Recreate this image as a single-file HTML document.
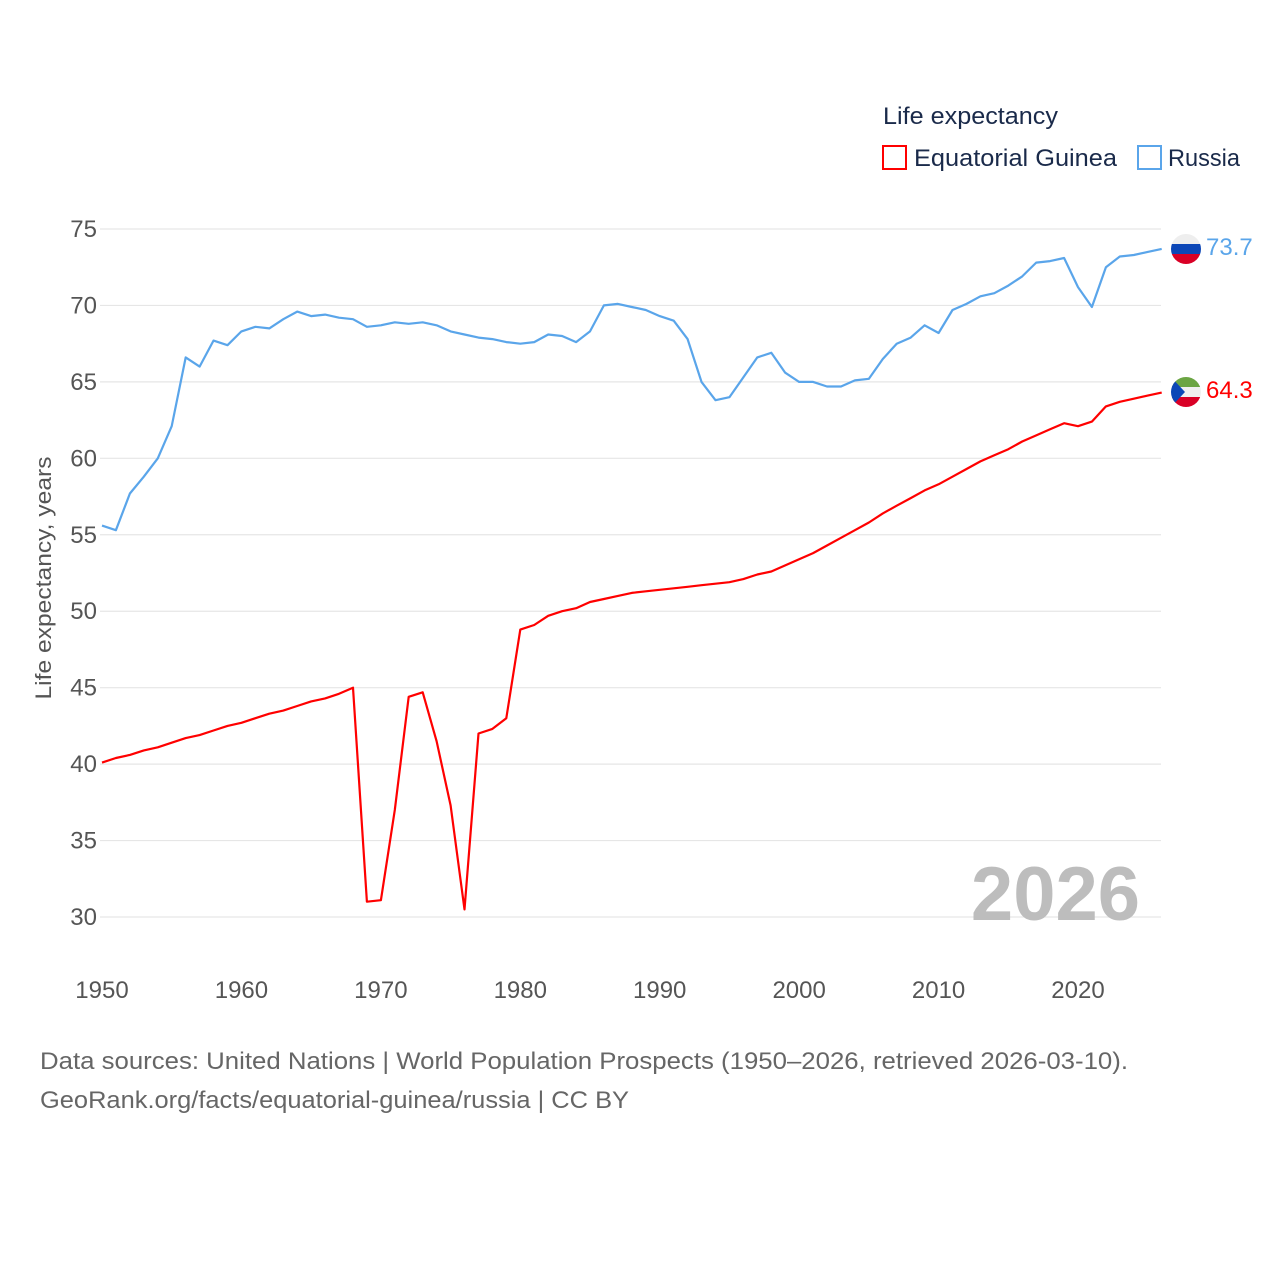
<!DOCTYPE html>
<html><head><meta charset="utf-8">
<style>
html,body{margin:0;padding:0;background:#fff;}
body{width:1280px;height:1280px;overflow:hidden;font-family:"Liberation Sans",sans-serif;}
</style></head>
<body>
<svg id="chart" width="1280" height="1280" xmlns="http://www.w3.org/2000/svg" font-family="Liberation Sans, sans-serif">
<defs>
<clipPath id="cr"><circle cx="1186" cy="249" r="15"/></clipPath>
<clipPath id="ce"><circle cx="1186" cy="392" r="15"/></clipPath>
</defs>
<g id="grid"></g>
<g id="yticks"></g>
<g id="xticks"></g>
<text transform="translate(51,578) rotate(-90)" text-anchor="middle" font-size="22" fill="#555" textLength="243" lengthAdjust="spacingAndGlyphs">Life expectancy, years</text>
<g id="lines"></g>
<text x="1140" y="920" text-anchor="end" font-size="76" font-weight="bold" fill="#bdbdbd">2026</text>
<g>
<text x="883" y="124" font-size="24" fill="#1a2a4a" textLength="175" lengthAdjust="spacingAndGlyphs">Life expectancy</text>
<g>
<rect x="883" y="146" width="23" height="23" fill="none" stroke="#ff0000" stroke-width="2"/>
<text x="914" y="166" font-size="24" fill="#1a2a4a" textLength="203" lengthAdjust="spacingAndGlyphs">Equatorial Guinea</text></g>
<g>
<rect x="1138" y="146" width="23" height="23" fill="none" stroke="#5aa5ea" stroke-width="2"/>
<text x="1168" y="166" font-size="24" fill="#1a2a4a" textLength="72" lengthAdjust="spacingAndGlyphs">Russia</text></g>
</g>
<g clip-path="url(#cr)">
<rect x="1171" y="234" width="30" height="10" fill="#eeeeee"/><rect x="1171" y="244" width="30" height="10" fill="#0c47b7"/><rect x="1171" y="254" width="30" height="10" fill="#d90026"/></g>
<g clip-path="url(#ce)">
<rect x="1171" y="377" width="30" height="10" fill="#6ba543"/><rect x="1171" y="387" width="30" height="10" fill="#f0f0f0"/><rect x="1171" y="397" width="30" height="10" fill="#d90026"/><polygon points="1171,377 1185,392 1171,407" fill="#0c47b7"/></g>
<text x="1206" y="255" font-size="24" fill="#5aa5ea">73.7</text>
<text x="1206" y="398" font-size="24" fill="#ff0000">64.3</text>
<text x="40" y="1069" font-size="24" fill="#666" textLength="1088" lengthAdjust="spacingAndGlyphs">Data sources: United Nations | World Population Prospects (1950–2026, retrieved 2026-03-10).</text>
<text x="40" y="1108" font-size="24" fill="#666" textLength="589" lengthAdjust="spacingAndGlyphs">GeoRank.org/facts/equatorial-guinea/russia | CC BY</text>
</svg>
<script>
const years = [];
for (let y = 1950; y <= 2026; y++) years.push(y);
const russia = [55.6,55.3,57.7,58.8,60.0,62.1,66.6,66.0,67.7,67.4,68.3,68.6,68.5,69.1,69.6,69.3,69.4,69.2,69.1,68.6,68.7,68.9,68.8,68.9,68.7,68.3,68.1,67.9,67.8,67.6,67.5,67.6,68.1,68.0,67.6,68.3,70.0,70.1,69.9,69.7,69.3,69.0,67.8,65.0,63.8,64.0,65.3,66.6,66.9,65.6,65.0,65.0,64.7,64.7,65.1,65.2,66.5,67.5,67.9,68.7,68.2,69.7,70.1,70.6,70.8,71.3,71.9,72.8,72.9,73.1,71.2,69.9,72.5,73.2,73.3,73.5,73.7];
const eqGuinea = [40.1,40.4,40.6,40.9,41.1,41.4,41.7,41.9,42.2,42.5,42.7,43.0,43.3,43.5,43.8,44.1,44.3,44.6,45.0,31.0,31.1,37.0,44.4,44.7,41.5,37.3,30.5,42.0,42.3,43.0,48.8,49.1,49.7,50.0,50.2,50.6,50.8,51.0,51.2,51.3,51.4,51.5,51.6,51.7,51.8,51.9,52.1,52.4,52.6,53.0,53.4,53.8,54.3,54.8,55.3,55.8,56.4,56.9,57.4,57.9,58.3,58.8,59.3,59.8,60.2,60.6,61.1,61.5,61.9,62.3,62.1,62.4,63.4,63.7,63.9,64.1,64.3];
const yTicks = [30,35,40,45,50,55,60,65,70,75];
const xTicks = [1950,1960,1970,1980,1990,2000,2010,2020];

const NS = "http://www.w3.org/2000/svg";
const xs = v => 102 + (v - 1950) * (1078 - 102) / 70;
const ys = v => 229 + (75 - v) * (917 - 229) / 45;

const grid = document.getElementById('grid');
const yt = document.getElementById('yticks');
yTicks.forEach(t => {
  const l = document.createElementNS(NS, 'line');
  
  
  l.setAttribute('x1', 100); l.setAttribute('x2', 1161);
  l.setAttribute('y1', ys(t)); l.setAttribute('y2', ys(t));
  l.setAttribute('stroke', '#e6e6e6'); l.setAttribute('stroke-width', '1.2');
  grid.appendChild(l);
  const tx = document.createElementNS(NS, 'text');
  
  
  tx.setAttribute('x', 97); tx.setAttribute('y', ys(t) + 8);
  tx.setAttribute('text-anchor', 'end'); tx.setAttribute('font-size', '24'); tx.setAttribute('fill', '#555');
  tx.textContent = t;
  yt.appendChild(tx);
});
const xt = document.getElementById('xticks');
xTicks.forEach(t => {
  const tx = document.createElementNS(NS, 'text');
  
  
  tx.setAttribute('x', xs(t)); tx.setAttribute('y', 998);
  tx.setAttribute('text-anchor', 'middle'); tx.setAttribute('font-size', '24'); tx.setAttribute('fill', '#555');
  tx.textContent = t;
  xt.appendChild(tx);
});
const lines = document.getElementById('lines');
function drawLine(vals, color, name) {
  const p = document.createElementNS(NS, 'polyline');
  
  
  p.setAttribute('points', vals.map((v, i) => xs(years[i]).toFixed(1) + ',' + ys(v).toFixed(1)).join(' '));
  p.setAttribute('fill', 'none'); p.setAttribute('stroke', color); p.setAttribute('stroke-width', '2.2');
  p.setAttribute('stroke-linejoin', 'round');
  lines.appendChild(p);
}
drawLine(russia, '#5aa5ea', 'russia-line');
drawLine(eqGuinea, '#ff0000', 'equatorial-guinea-line');
</script>
</body></html>
